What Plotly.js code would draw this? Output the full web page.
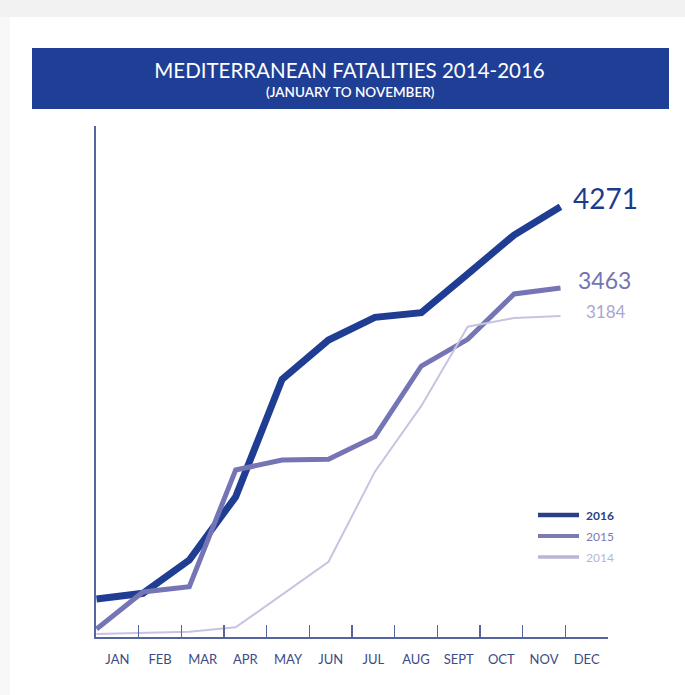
<!DOCTYPE html>
<html><head><meta charset="utf-8">
<script src="https://cdn.plot.ly/plotly-3.0.1.min.js"></script>
<style>html,body{margin:0;padding:0;background:#fff}#chart{width:685px;height:695px}</style>
</head><body><div id="chart"></div>
<script>
// ---- data ----
const months = ['JAN','FEB','MAR','APR','MAY','JUN','JUL','AUG','SEPT','OCT','NOV','DEC'];
const dataMonths = months.slice(0, 11);
const years = ['2016', '2015', '2014'];
const fatalities2016 = [373, 429, 760, 1389, 2556, 2946, 3172, 3218, 3602, 3990, 4271];
const fatalities2015 = [75, 442, 495, 1655, 1754, 1761, 1986, 2688, 2953, 3404, 3463];
const fatalities2014 = [25, 35, 48, 91, 417, 743, 1638, 2291, 3079, 3165, 3184];
const titleText = 'MEDITERRANEAN FATALITIES 2014-2016';
const subtitleText = '(JANUARY TO NOVEMBER)';

// ---- styles ----
const seriesValues = [fatalities2016, fatalities2015, fatalities2014];
const lineColors = ['#1f3d92', '#7575b5', '#c6c4e1'];
const lineWidths = [7, 5, 2];
const labelColors = ['#1f3a8c', '#7373b2', '#a9a7cf'];
const labelSizes = [28, 23, 17];
const labelShift = [[11, 9], [16, 8], [24, 5]];
const legendColors = ['#2b3f85', '#7a7ab4', '#b8b6d8'];
const legendWidths = [4.5, 4, 3.5];
const legendY = [515, 536, 557];
const axisColor = '#56659e';
const font = 'Lato, "Open Sans", sans-serif';

const W = 685, H = 695, L = 96, R = 77, T = 126, B = 58;
const pw = W - L - R, ph = H - T - B;
const px = p => (p - L) / pw;
const py = p => (H - B - p) / ph;

const idx = dataMonths.map((_, i) => i);
const traces = [];
seriesValues.forEach((vals, s) => {
  traces.push({
    x: idx, y: vals, type: 'scatter', mode: 'lines', name: years[s],
    line: {color: lineColors[s], width: lineWidths[s]},
    showlegend: false, hoverinfo: 'skip', xaxis: 'x', yaxis: 'y'
  });
});
traces.push({
  x: months, y: months.map(() => null), type: 'scatter', mode: 'lines',
  xaxis: 'x2', yaxis: 'y', showlegend: false, hoverinfo: 'skip'
});

const shapes = [
  {type: 'rect', xref: 'paper', yref: 'paper', x0: px(0), x1: px(W), y0: py(0), y1: py(17),
   fillcolor: '#f2f2f2', line: {width: 0}, layer: 'below'},
  {type: 'rect', xref: 'paper', yref: 'paper', x0: px(0), x1: px(10), y0: py(17), y1: py(H),
   fillcolor: '#f8f8f8', line: {width: 0}, layer: 'below'},
  {type: 'rect', xref: 'paper', yref: 'paper', x0: px(32), x1: px(669), y0: py(48), y1: py(109),
   fillcolor: '#1f3e95', line: {width: 0}, layer: 'below'}
];
const annotations = [
  {xref: 'paper', yref: 'paper', x: px(350.5), y: py(92), text: subtitleText, showarrow: false,
   xanchor: 'center', yanchor: 'middle', font: {family: font, size: 13.5, color: '#ffffff', weight: 600}}
];
seriesValues.forEach((vals, s) => {
  const last = vals.length - 1;
  annotations.push({
    xref: 'x', yref: 'y', x: idx[last], y: vals[last], text: String(vals[last]),
    showarrow: false, xanchor: 'left', yanchor: 'middle',
    xshift: labelShift[s][0], yshift: labelShift[s][1],
    font: {family: font, size: labelSizes[s], color: labelColors[s]}
  });
  shapes.push({type: 'line', xref: 'paper', yref: 'paper', x0: px(538), x1: px(579),
    y0: py(legendY[s]), y1: py(legendY[s]), line: {color: legendColors[s], width: legendWidths[s]}});
  annotations.push({
    xref: 'paper', yref: 'paper', x: px(584), y: py(legendY[s]), text: s === 0 ? '<b>' + years[s] + '</b>' : years[s],
    showarrow: false, xanchor: 'left', yanchor: 'middle',
    font: {family: font, size: 12, color: legendColors[s]}
  });
});

const layout = {
  width: W, height: H,
  margin: {l: L, r: R, t: T, b: B, pad: 0},
  paper_bgcolor: '#ffffff', plot_bgcolor: 'rgba(0,0,0,0)',
  showlegend: false,
  title: {text: titleText, xref: 'container', yref: 'container', x: 349.5 / W, y: 1 - 71 / H,
          xanchor: 'center', yanchor: 'middle', font: {family: font, size: 20.5, color: '#ffffff'}},
  xaxis: {range: [-0.011, 11.024], visible: false, fixedrange: true},
  xaxis2: {overlaying: 'x', anchor: 'y', side: 'bottom', type: 'category',
    categoryorder: 'array', categoryarray: months, range: [-0.5, 11.5],
    tickson: 'boundaries', ticks: 'inside', ticklen: 12, tickwidth: 1.5, tickcolor: axisColor,
    showline: true, linecolor: axisColor, linewidth: 2, showgrid: false, zeroline: false,
    ticklabelstandoff: 9, tickfont: {family: font, size: 13, color: '#3c4b86'}},
  yaxis: {range: [-5, 5073], showline: true, linecolor: axisColor, linewidth: 2,
    ticks: '', showticklabels: false, showgrid: false, zeroline: false},
  shapes: shapes, annotations: annotations
};
Plotly.newPlot('chart', traces, layout, {staticPlot: true, displayModeBar: false});
</script>
</body></html>
